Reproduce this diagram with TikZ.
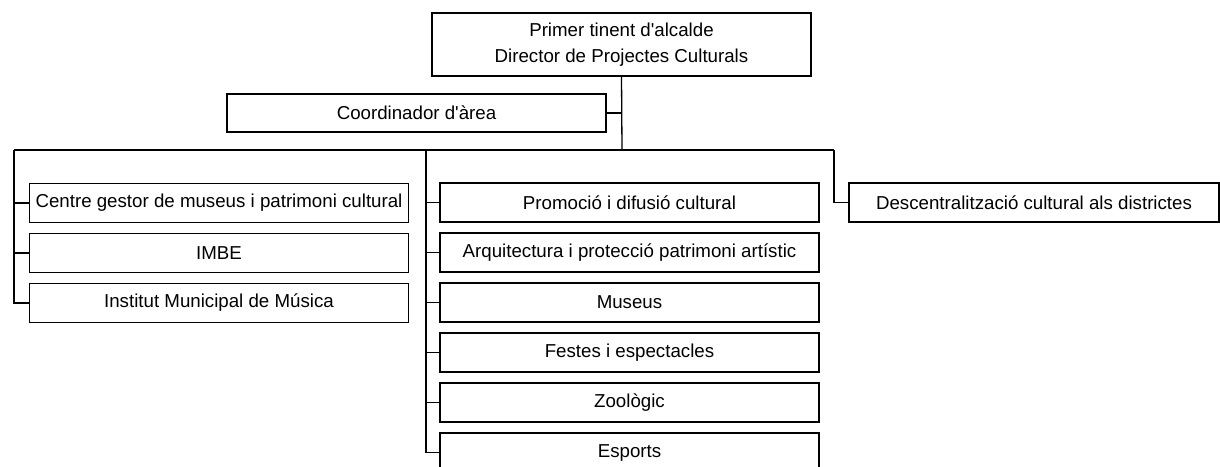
\documentclass[tikz,border=0pt]{standalone}
\usepackage{fontspec}
\setmainfont{Liberation Sans}
\begin{document}
\begin{tikzpicture}[x=1pt,y=-1pt,
  every node/.style={font=\fontsize{18.7}{26}\selectfont},
  unit/.style={draw,line width=1.3pt,minimum width=379pt,minimum height=39pt,inner sep=0pt,align=center},
  link/.style={line width=1.3pt}]
\useasboundingbox (0,0) rectangle (1220,466);
% boxes
\node[unit,minimum height=63pt] (top) at (621.5,44.5) {Primer tinent d\textquotesingle alcalde\\Director de Projectes Culturals};
\node[unit,minimum height=38pt] (coord) at (416.5,113) {Coordinador d\textquotesingle àrea};
\node[unit] (l1) at (219,203) {Centre gestor de museus i patrimoni cultural};
\node[unit] (l2) at (219,253) {IMBE};
\node[unit] (l3) at (219,303) {Institut Municipal de Música};
\node[unit] (m1) at (629.5,202.5) {Promoció i difusió cultural};
\node[unit] (m2) at (629.5,252.5) {Arquitectura i protecció patrimoni artístic};
\node[unit] (m3) at (629.5,302.5) {Museus};
\node[unit] (m4) at (629.5,352.5) {Festes i espectacles};
\node[unit] (m5) at (629.5,402.5) {Zoològic};
\node[unit] (m6) at (629.5,452.5) {Esports};
\node[unit,minimum width=370pt] (d1) at (1034,202.5) {Descentralització cultural als districtes};
% bus coordinates
\coordinate (bus) at (622,150);
\coordinate (bl) at (14,150);
\coordinate (bm) at (426,150);
\coordinate (br) at (834,150);
% connectors
\draw[link] (top.south) -- (bus);
\draw[link] (coord.east) -- (coord.east -| bus);
\draw[link] (bl) -- (br);
\draw[link] (bl) |- (l1.west);
\draw[link] (bl) |- (l2.west);
\draw[link] (bl) |- (l3.west);
\draw[link] (bm) |- (m1.west);
\draw[link] (bm) |- (m2.west);
\draw[link] (bm) |- (m3.west);
\draw[link] (bm) |- (m4.west);
\draw[link] (bm) |- (m5.west);
\draw[link] (bm) |- (m6.west);
\draw[link] (br) |- (d1.west);
\end{tikzpicture}
\end{document}
